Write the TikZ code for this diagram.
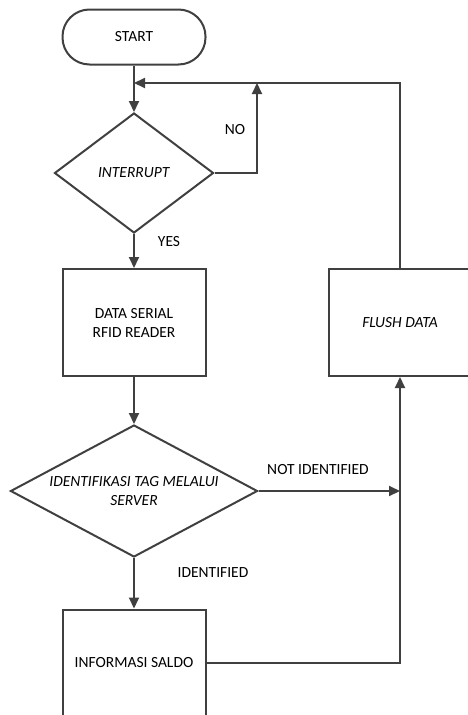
\documentclass[tikz,border=0pt]{standalone}
\usepackage{fontspec}
\setmainfont{Carlito}
\usetikzlibrary{shapes.geometric,arrows.meta}
\definecolor{linegray}{HTML}{404040}

\begin{document}
\begin{tikzpicture}[
  x=1pt, y=-1pt,
  every node/.style={font=\fontsize{15.5}{19}\selectfont, align=center},
  terminator/.style={rectangle, rounded corners=27pt, draw=linegray, line width=2pt,
    minimum width=143pt, minimum height=55pt},
  decision/.style={diamond, draw=linegray, line width=2pt, inner sep=0pt, aspect=1.87},
  process/.style={rectangle, draw=linegray, line width=2pt,
    minimum width=143pt, minimum height=107pt},
  flow/.style={draw=linegray, line width=2pt, -{Triangle[length=11pt,width=10pt]}},
  joinline/.style={draw=linegray, line width=2pt},
  branch/.style={inner sep=0pt}
]
  \clip (0,0) rectangle (468,715);

  % Flow symbols
  \node[terminator] (start) at (134,37) {START};
  \node[decision, minimum width=159pt, minimum height=120pt] (intr) at (134,173) {\textit{INTERRUPT}};
  \node[process] (serial) at (134,322.5) {DATA SERIAL\\RFID READER};
  \node[process] (flush) at (400,322.5) {\textit{FLUSH DATA}};
  \node[decision, minimum width=247pt, minimum height=132pt] (ident) at (134,491) {\textit{IDENTIFIKASI TAG MELALUI}\\\textit{SERVER}};
  \node[process] (saldo) at (134,663) {INFORMASI SALDO};

  % Junction points
  \coordinate (merge) at (134,83);
  \coordinate (looptop) at (400,83);
  \coordinate (notop) at (257,83);
  \coordinate (joinid) at (400,491);
  \coordinate (joinsaldo) at (400,663);

  % Connectors
  \draw[flow] (start.south) -- (intr.north);
  \draw[flow] (intr.east) -- (intr.east -| notop) -- (notop);
  \draw[flow] (flush.north) -- (looptop) -- (merge);
  \draw[flow] (intr.south) -- (serial.north);
  \draw[flow] (serial.south) -- (ident.north);
  \draw[flow] (ident.east) -- (joinid);
  \draw[flow] (ident.south) -- (saldo.north);
  \draw[flow] (saldo.east) -- (joinsaldo) -- (flush.south);

  % Branch labels
  \node[branch] (no) at (235,130) {NO};
  \node[branch] (yes) at (169,242) {YES};
  \node[branch] (notid) at (318,470) {NOT IDENTIFIED};
  \node[branch] (isid) at (213,573) {IDENTIFIED};
\end{tikzpicture}
\end{document}
